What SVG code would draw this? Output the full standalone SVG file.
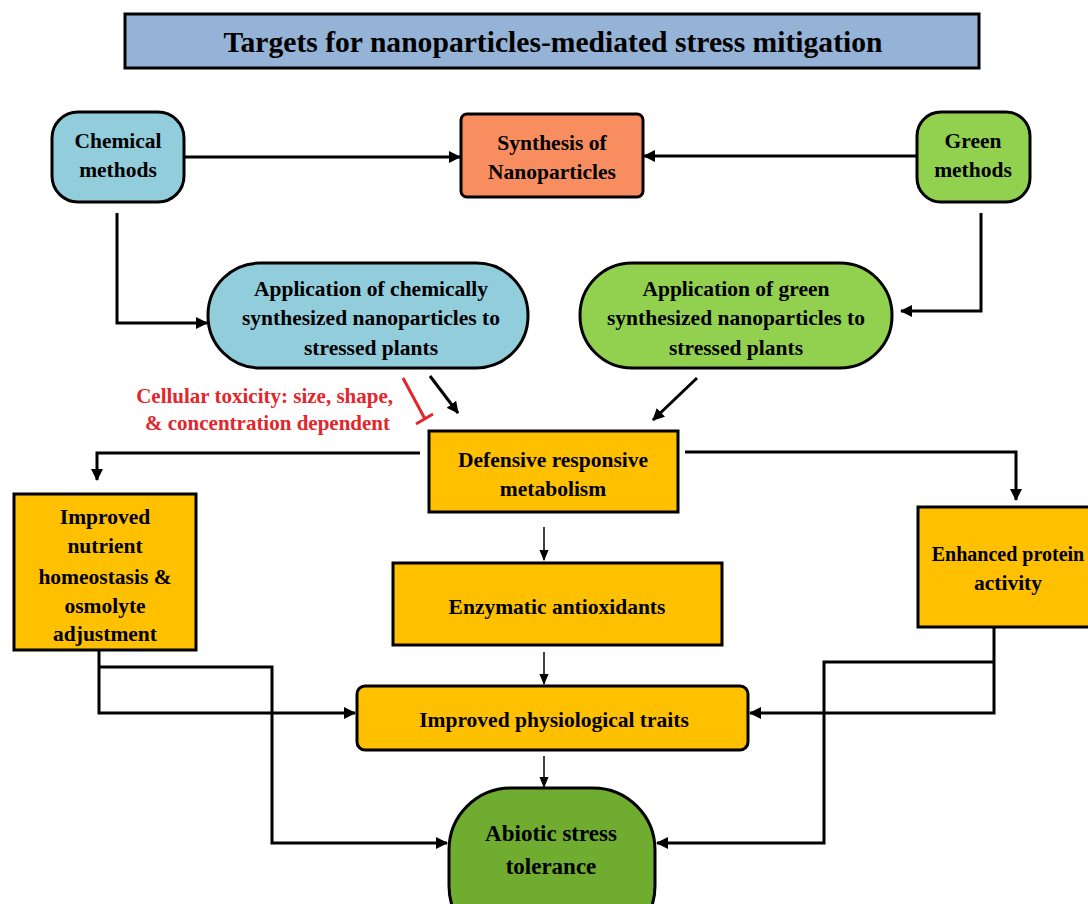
<svg xmlns="http://www.w3.org/2000/svg" width="1088" height="904" viewBox="0 0 1088 904">
<defs>
<marker id="ah" viewBox="0 0 12 12" refX="11" refY="6" markerWidth="12" markerHeight="12" markerUnits="userSpaceOnUse" orient="auto">
<path d="M0,0 L12,6 L0,12 Z" fill="#000"/>
</marker>
<marker id="ahs" viewBox="0 0 12 12" refX="11" refY="6" markerWidth="11" markerHeight="11" markerUnits="userSpaceOnUse" orient="auto">
<path d="M0,1 L12,6 L0,11 Z" fill="#000"/>
</marker>
</defs>
<style>
.box{stroke:#000;stroke-width:3}
.t{font-family:"Liberation Serif","Times New Roman",serif;font-weight:bold;font-size:21.5px;fill:#000;text-anchor:middle}
.red{fill:#E3262B;text-anchor:end;font-size:21px}
.c{fill:none;stroke:#000;stroke-width:3;marker-end:url(#ah)}
.thin{fill:none;stroke:#000;stroke-width:1.5;marker-end:url(#ahs)}
</style>
<rect width="1088" height="904" fill="#fff"/>
<g id="title">
<rect class="box" x="125" y="14" width="854" height="54" fill="#95B3D7"/>
<text class="t" x="553" y="52" style="font-size:29px" textLength="659" lengthAdjust="spacingAndGlyphs">Targets for nanoparticles-mediated stress mitigation</text>
</g>
<g id="chemical">
<rect class="box" x="52" y="112" width="132" height="90" rx="26" fill="#92CDDC"/>
<text class="t" x="118" y="148">Chemical</text>
<text class="t" x="118" y="177">methods</text>
</g>
<g id="synthesis">
<rect class="box" x="461" y="114" width="182" height="83" rx="6" fill="#F88D60"/>
<text class="t" x="552" y="150">Synthesis of</text>
<text class="t" x="552" y="179">Nanoparticles</text>
</g>
<g id="green">
<rect class="box" x="917" y="112" width="113" height="90" rx="24" fill="#92D050"/>
<text class="t" x="973" y="148">Green</text>
<text class="t" x="973" y="177">methods</text>
</g>
<g id="app-chem">
<rect class="box" x="208" y="263" width="320" height="105" rx="52" fill="#92CDDC"/>
<text class="t" x="371" y="296">Application of chemically</text>
<text class="t" x="371" y="325">synthesized nanoparticles to</text>
<text class="t" x="371" y="355">stressed plants</text>
</g>
<g id="app-green">
<rect class="box" x="580" y="263" width="312" height="105" rx="52" fill="#92D050"/>
<text class="t" x="736" y="296">Application of green</text>
<text class="t" x="736" y="325">synthesized nanoparticles to</text>
<text class="t" x="736" y="355">stressed plants</text>
</g>
<g id="toxicity">
<text class="t red" x="393" y="403">Cellular toxicity: size, shape,</text>
<text class="t red" x="390" y="430">&amp; concentration dependent</text>
</g>
<g id="defensive">
<rect class="box" x="429" y="431" width="249" height="81" fill="#FFC000"/>
<text class="t" x="553" y="467">Defensive responsive</text>
<text class="t" x="553" y="496">metabolism</text>
</g>
<g id="nutrient">
<rect class="box" x="14" y="494" width="182" height="156" fill="#FFC000"/>
<text class="t" x="105" y="524">Improved</text>
<text class="t" x="105" y="553">nutrient</text>
<text class="t" x="105" y="584">homeostasis &amp;</text>
<text class="t" x="105" y="613">osmolyte</text>
<text class="t" x="105" y="641">adjustment</text>
</g>
<g id="protein">
<rect class="box" x="918" y="507" width="180" height="120" fill="#FFC000"/>
<text class="t" x="1008" y="561" style="font-size:20px">Enhanced protein</text>
<text class="t" x="1008" y="590">activity</text>
</g>
<g id="enzymatic">
<rect class="box" x="393" y="563" width="329" height="82" fill="#FFC000"/>
<text class="t" x="557" y="614">Enzymatic antioxidants</text>
</g>
<g id="physiological">
<rect class="box" x="357" y="686" width="391" height="64" rx="8" fill="#FFC000"/>
<text class="t" x="554" y="727">Improved physiological traits</text>
</g>
<g id="abiotic">
<rect class="box" x="449" y="788" width="206" height="160" rx="62" fill="#6FAC2F"/>
<text class="t" x="551" y="841" style="font-size:23px">Abiotic stress</text>
<text class="t" x="551" y="874" style="font-size:23px">tolerance</text>
</g>
<g id="connectors">
<path class="c" d="M184,157 L460,157"/>
<path class="c" d="M917,156 L644,156"/>
<path class="c" d="M117,213 L117,323 L207,323"/>
<path class="c" d="M981,213 L981,311 L901,311"/>
<path class="c" d="M430,376 L458,413"/>
<path class="c" d="M697,378 L653,420"/>
<path fill="none" stroke="#E3262B" stroke-width="3" d="M403,378 L425,419 M416,424 L433,414"/>
<path class="c" d="M420,453 L97,453 L97,480"/>
<path class="c" d="M685,452 L1016,452 L1016,500"/>
<path class="thin" d="M544,527 L544,560"/>
<path class="thin" d="M544,652 L544,684"/>
<path class="thin" d="M544,756 L544,787"/>
<path class="c" d="M99,650 L99,713 L355,713"/>
<path class="c" d="M99,667 L272,667 L272,843 L447,843"/>
<path class="c" d="M994,627 L994,713 L750,713"/>
<path class="c" d="M994,662 L824,662 L824,843 L657,843"/>
</g>
</svg>
